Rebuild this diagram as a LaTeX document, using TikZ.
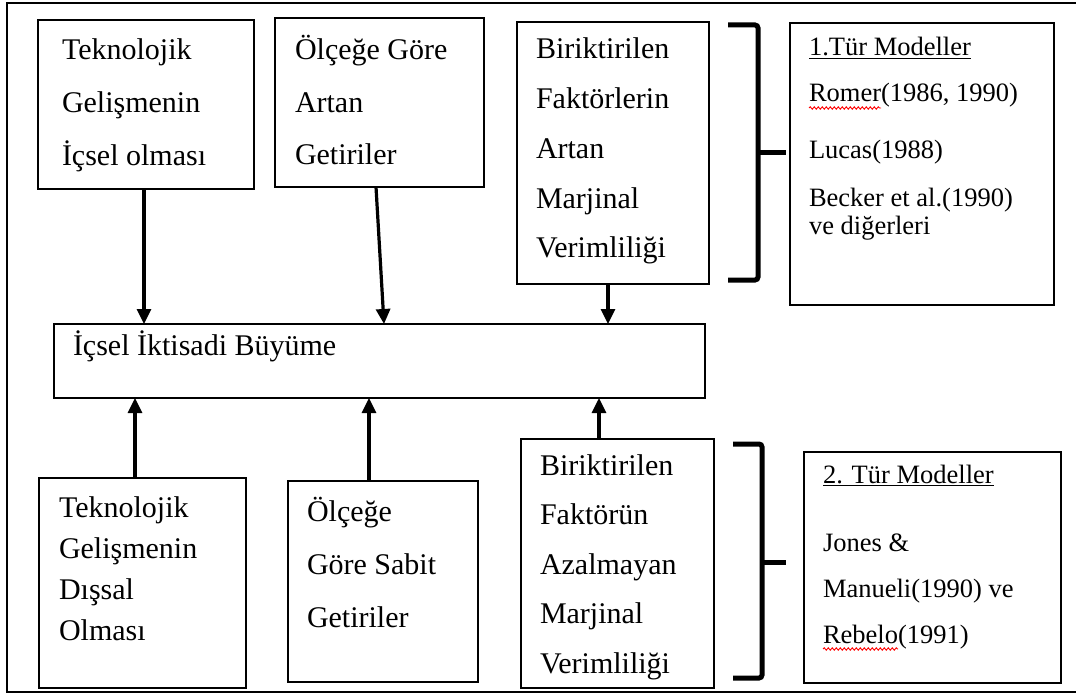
\documentclass[tikz,border=0pt]{standalone}
\usepackage{fontspec}
\setmainfont{Liberation Serif}
\usetikzlibrary{arrows.meta,decorations.pathmorphing}
\newcommand\boxlines[3][30]{\parbox[t]{300pt}{\fontsize{#1}{#2}\selectfont #3}}
\tikzset{
  box/.style={draw, line width=2pt, inner sep=0pt, outer sep=0pt, anchor=north west},
  txt/.style={inner sep=0pt, outer sep=0pt, anchor=base west},
  arr/.style={line width=3.2pt, -{Triangle[length=15pt,width=14pt]}},
  brace/.style={line width=5pt, rounded corners=3pt},
  frame/.style={line width=2pt},
  spell/.style={red, line width=0.9pt, decorate, decoration={snake, amplitude=1.2pt, segment length=4pt}}
}
\begin{document}
\begin{tikzpicture}[x=1pt,y=-1pt]
\useasboundingbox (0,0) rectangle (1076,695);
% outer frame
\draw[frame] (1076,3) -- (7,3) -- (7,692) -- (1076,692);
% boxes
\node[box, minimum width=216pt, minimum height=169pt] (b1) at (38,20) {};
\node[box, minimum width=209pt, minimum height=169pt] (b2) at (275,18) {};
\node[box, minimum width=192pt, minimum height=262pt] (b3) at (517,22) {};
\node[box, minimum width=651pt, minimum height=74pt] (g) at (54,324) {};
\node[box, minimum width=207pt, minimum height=210pt] (c1) at (39,478) {};
\node[box, minimum width=190pt, minimum height=201pt] (c2) at (288,481) {};
\node[box, minimum width=193pt, minimum height=249pt] (c3) at (521,439) {};
\node[box, minimum width=264pt, minimum height=282pt] (r1) at (790,23) {};
\node[box, minimum width=257pt, minimum height=231pt] (r2) at (804,452) {};
% texts
\node[txt] (t1) at (62,60) {\boxlines{53}{Teknolojik\\Gelişmenin\\İçsel olması}};
\node[txt] (t2) at (295,60) {\boxlines{52.5}{Ölçeğe Göre\\Artan\\Getiriler}};
\node[txt] (t3) at (536,59) {\boxlines{49.75}{Biriktirilen\\Faktörlerin\\Artan\\Marjinal\\Verimliliği}};
\node[txt] (tg) at (73,355) {\fontsize{30}{36}\selectfont İçsel İktisadi Büyüme};
\node[txt] (u1) at (59,517) {\boxlines{41}{Teknolojik\\Gelişmenin\\Dışsal\\Olması}};
\node[txt] (u2) at (307,521) {\boxlines{53}{Ölçeğe\\Göre Sabit\\Getiriler}};
\node[txt] (u3) at (540,475) {\boxlines{49.5}{Biriktirilen\\Faktörün\\Azalmayan\\Marjinal\\Verimliliği}};
\node[txt] (s1) at (809,56) {\boxlines[26.5]{28}{\underline{1.Tür Modeller}\\[18pt]Romer(1986, 1990)\\[29pt]Lucas(1988)\\[20pt]Becker et al.(1990)\\ve diğerleri}};
\node[txt] (s2) at (823,483) {\boxlines[26.5]{46}{\underline{2. Tür Modeller}\\[22pt]Jones \&\\Manueli(1990) ve\\Rebelo(1991)}};
% spell-check underlines
\draw[spell] (809,108) -- (881,108);
\draw[spell] (823,649) -- (898,649);
% arrows down
\draw[arr] ([xshift=-2pt]b1.south) -- ([xshift=-2pt]b1.south |- g.north);
\draw[arr] ([xshift=-3.5pt]b2.south) -- ([xshift=4.5pt]b2.south |- g.north);
\draw[arr] ([xshift=-5pt]b3.south) -- ([xshift=-5pt]b3.south |- g.north);
% arrows up
\draw[arr] ([xshift=-7.5pt]c1.north) -- ([xshift=-7.5pt]c1.north |- g.south);
\draw[arr] ([xshift=-14pt]c2.north) -- ([xshift=-14pt]c2.north |- g.south);
\draw[arr] ([xshift=-18.5pt]c3.north) -- ([xshift=-18.5pt]c3.north |- g.south);
% brackets
\draw[brace] (728,25) -- (758,25) -- (758,280) -- (728,280);
\draw[brace] (758,153) -- (786,153);
\draw[brace] (733,444) -- (762,444) -- (762,678) -- (733,678);
\draw[brace] (762,562) -- (786,562);
\end{tikzpicture}
\end{document}
